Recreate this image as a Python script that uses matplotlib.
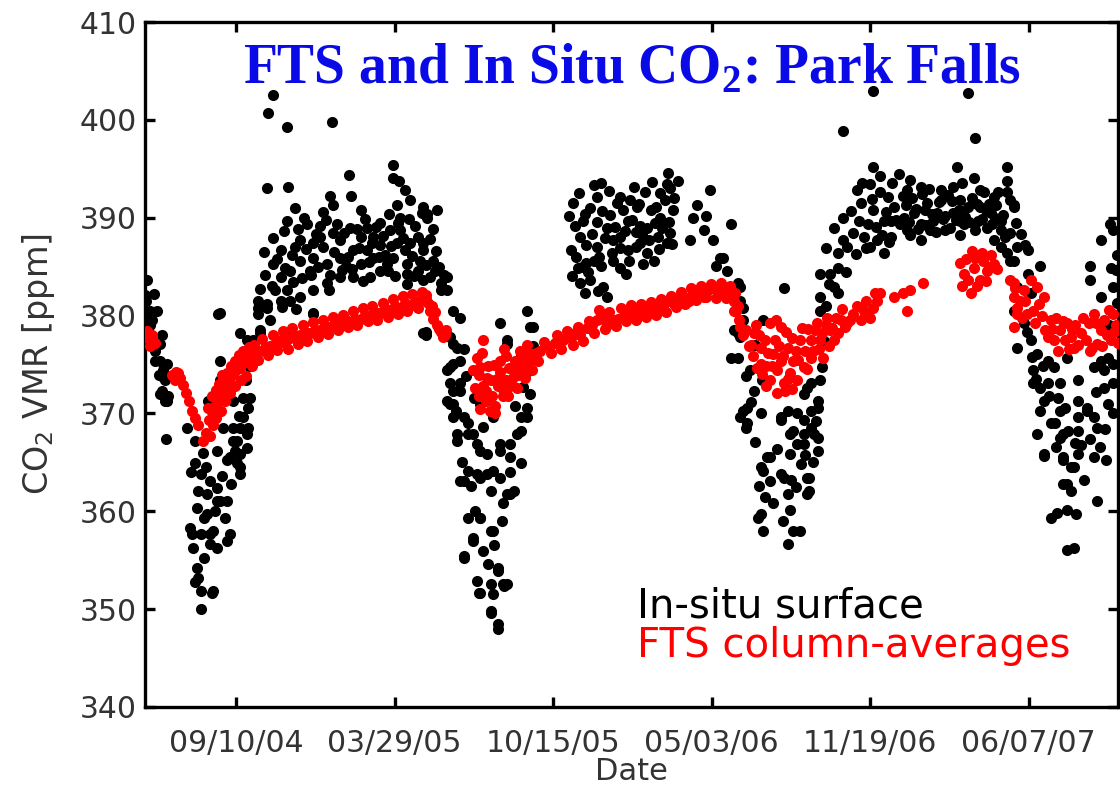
# -*- coding: utf-8 -*-
import numpy as np
import matplotlib
matplotlib.use("Agg")
import matplotlib.pyplot as plt
import matplotlib.dates as mdates

# days counted from 09/10/04, CO2 in ppm
insitu_2004 = [(-115, 380.5), (-111, 379.7), (-109, 379.0), (-106, 377.5), (-102, 376.4), (-96, 375.4),
               (-92, 374.4), (-90, 373.4), (-93, 372.3), (-86, 371.8), (-90, 371.3), (-88, 367.4),
               (-112, 383.6), (-115, 382.1), (-109, 380.5), (-111, 378.5), (-102, 375.4), (-98, 373.9),
               (-114, 381.5), (-106, 379.5), (-96, 377.1), (-87, 375.1), (-92, 373.7), (-96, 372.0),
               (-87, 371.3), (-100, 380.5), (-94, 378.0), (-104, 382.2),
               (-62, 368.5), (-52, 367.2), (-42, 366.0), (-52, 364.9), (-45, 363.8), (-33, 363.1),
               (-48, 362.1), (-37, 361.8), (-24, 362.4), (-20, 361.1), (-58, 358.3), (-56, 357.7),
               (-54, 356.3), (-29, 358.0), (-33, 356.7), (-24, 356.3), (-11, 357.0), (-14, 359.3),
               (-49, 354.2), (-48, 353.2), (-45, 351.9), (-29, 351.9), (-30, 351.7), (-45, 350.0),
               (-35, 371.3), (-23, 380.2), (-20, 375.4), (-20, 373.4), (-4, 368.5), (1, 367.2),
               (5, 365.9), (14, 366.5), (5, 364.5), (15, 370.6), (18, 371.6), (-4, 371.3),
               (21, 377.5), (5, 378.2), (30, 378.2), (27, 381.5), (27, 380.2), (39, 380.8),
               (56, 381.5), (97, 380.2), (68, 378.2), (-20, 380.3), (14, 377.5), (30, 378.5),
               (14, 367.9), (5, 368.5), (-4, 367.2), (9, 369.6), (15, 368.5), (-24, 366.2),
               (-8, 365.5), (-11, 365.2), (1, 364.9), (5, 363.8), (-24, 361.1), (-11, 361.1),
               (-8, 357.7), (-37, 359.7), (-45, 357.7), (-33, 357.7),
               (-57, 364.0), (-50, 360.3), (-41, 359.3), (-38, 364.5), (-27, 360.0), (-18, 363.6),
               (-16, 368.5), (-6, 362.8), (-2, 366.2), (3, 369.7), (8, 371.6), (12, 373.4),
               (16, 374.8), (-40, 355.2), (-52, 352.8)]

insitu_winter05 = [(47, 402.5), (40, 400.7), (64, 399.3), (121, 399.8), (39, 393.0), (66, 393.1),
                   (143, 394.4), (198, 395.4), (198, 394.1), (145, 392.2), (119, 392.2), (122, 391.3),
                   (109, 390.6), (74, 391.0), (64, 389.7), (85, 390.0), (47, 387.9), (74, 387.0),
                   (97, 387.4), (122, 388.4), (106, 388.0), (144, 389.0), (165, 389.0), (173, 388.0),
                   (203, 391.3), (207, 390.0), (241, 390.0), (194, 388.7), (203, 387.4), (220, 387.4),
                   (236, 387.4), (249, 385.6), (47, 385.3), (56, 383.9), (68, 384.6), (81, 385.6),
                   (97, 385.9), (115, 385.3), (131, 385.9), (148, 386.7), (157, 385.3), (173, 385.9),
                   (182, 384.6), (198, 385.9), (216, 385.3), (229, 384.6), (245, 383.9), (258, 383.3),
                   (266, 382.6), (27, 380.8), (39, 381.2), (64, 382.6), (81, 381.9), (97, 382.6),
                   (115, 383.3), (131, 383.9), (148, 383.9), (169, 383.9), (191, 384.6), (216, 384.3),
                   (236, 383.6), (97, 380.3), (239, 378.0),
                   (56, 386.7), (81, 387.7), (106, 389.2), (131, 387.7), (157, 388.0), (182, 387.2),
                   (207, 388.7), (226, 389.2), (37, 384.1), (49, 382.6), (93, 384.6), (119, 384.1),
                   (138, 385.1), (165, 386.7), (188, 386.2), (213, 386.7), (232, 385.6), (251, 384.6),
                   (68, 381.5), (43, 379.5), (157, 390.8), (182, 389.5), (220, 391.8), (236, 391.1),
                   (254, 390.8), (213, 392.8), (205, 393.8)]

insitu_winter05_b = [(35, 386.5), (45, 383.0), (52, 385.8), (60, 388.6), (62, 384.9), (70, 386.2),
                     (72, 383.4), (78, 388.9), (83, 383.8), (88, 386.8), (90, 389.4), (95, 384.2),
                     (101, 388.3), (103, 385.0), (110, 387.0), (113, 389.8), (117, 382.6), (124, 386.5),
                     (127, 389.4), (134, 384.7), (136, 388.4), (141, 386.0), (146, 384.8), (152, 388.8),
                     (155, 386.9), (160, 383.5), (162, 389.9), (168, 385.5), (171, 387.4), (177, 389.1),
                     (180, 386.0), (185, 388.1), (190, 385.3), (193, 390.4), (196, 387.1), (200, 384.0),
                     (204, 389.5), (210, 387.9), (215, 383.2), (218, 389.9), (222, 386.1), (225, 384.0),
                     (230, 388.0), (234, 390.5), (240, 385.2), (244, 387.8), (248, 388.9), (252, 386.6),
                     (256, 385.0), (262, 384.2), (58, 380.9), (76, 380.7), (30, 382.7)]

insitu_fall05 = [(241, 390.4), (236, 386.7), (266, 383.9), (258, 382.6), (239, 378.3), (274, 380.5),
                 (283, 379.8), (274, 377.1), (287, 376.6), (270, 374.7), (274, 372.3), (283, 373.1),
                 (270, 371.0), (292, 369.0), (279, 367.2), (270, 377.8), (279, 376.7), (274, 375.1),
                 (266, 374.4), (270, 373.1), (283, 372.3), (274, 371.0), (287, 369.6), (279, 367.9),
                 (299, 367.9), (308, 366.2), (292, 364.1), (308, 363.4), (287, 363.1), (324, 364.1),
                 (321, 362.1), (342, 361.8), (337, 360.8), (308, 359.3), (321, 358.0), (299, 357.0),
                 (287, 355.4), (330, 354.2), (304, 352.9), (321, 352.6), (337, 352.6), (321, 349.8),
                 (330, 348.5), (367, 380.5), (333, 379.2), (371, 378.8), (342, 377.5), (359, 376.1),
                 (371, 372.0), (367, 369.6), (359, 368.2), (359, 364.9), (346, 366.9), (333, 366.2),
                 (350, 362.1), (324, 369.6), (308, 371.0),
                 (236, 378.2), (283, 375.4), (266, 371.3), (274, 369.6), (292, 367.9), (304, 366.9),
                 (317, 365.9), (333, 366.9), (346, 365.5), (355, 367.9), (359, 369.6), (367, 370.6),
                 (342, 377.1), (375, 378.8), (304, 363.8), (317, 363.8), (333, 363.4), (283, 363.1),
                 (346, 361.8), (292, 359.3), (308, 359.3), (324, 358.0), (299, 357.3), (287, 355.2),
                 (330, 353.9), (342, 352.6), (308, 351.6), (307, 351.7), (324, 351.5), (338, 352.4),
                 (322, 349.6), (331, 348.0),
                 (278, 370.2), (285, 365.0), (296, 362.6), (302, 360.0), (312, 355.9), (318, 354.6),
                 (326, 356.6), (335, 359.0), (345, 364.0), (352, 370.8), (362, 372.7), (368, 374.3),
                 (374, 376.9), (290, 373.8), (300, 371.6), (312, 368.6)]

insitu_winter06 = [(425, 391.5), (460, 393.6), (545, 394.6), (456, 392.1), (485, 392.1), (506, 391.1),
                   (535, 392.5), (544, 393.5), (438, 389.7), (468, 389.0), (494, 389.7), (519, 389.0),
                   (535, 390.0), (548, 388.4), (434, 388.0), (456, 387.0), (485, 388.0), (510, 387.4),
                   (532, 388.0), (431, 384.9), (451, 385.6), (476, 385.6), (494, 386.7), (434, 383.3),
                   (447, 383.6), (463, 382.9), (468, 381.9), (485, 384.9), (519, 386.4), (544, 387.4),
                   (527, 385.6), (422, 386.7), (441, 387.2), (472, 390.3), (497, 391.8), (523, 390.8),
                   (428, 389.2), (447, 391.0), (475, 387.7), (504, 388.5), (529, 389.5), (551, 390.8),
                   (510, 389.2), (460, 385.1), (441, 385.4), (558, 393.8), (548, 393.0),
                   (598, 392.8), (577, 390.0), (590, 388.7), (624, 389.4), (602, 387.7), (611, 385.9),
                   (620, 384.6), (633, 383.3), (636, 381.5), (628, 378.5), (624, 375.7), (640, 370.3),
                   (645, 369.0), (636, 377.8), (582, 391.3), (593, 390.2), (573, 387.7), (605, 385.1),
                   (615, 385.9), (628, 381.5), (639, 379.5)]

insitu_winter06_b = [(420, 390.2), (424, 384.0), (429, 386.0), (433, 392.5), (436, 385.0), (440, 390.4),
                     (444, 384.5), (449, 388.3), (452, 393.3), (455, 389.6), (458, 386.0), (462, 390.7),
                     (466, 387.9), (470, 392.7), (474, 386.4), (478, 389.1), (481, 391.5), (484, 386.9),
                     (488, 390.8), (491, 388.6), (496, 385.6), (499, 389.8), (502, 393.1), (505, 387.0),
                     (509, 391.4), (512, 388.3), (516, 392.6), (521, 387.7), (525, 393.7), (530, 391.1),
                     (533, 386.8), (538, 389.0), (541, 391.8), (546, 389.6), (550, 387.3), (553, 392.0),
                     (457, 382.5), (440, 382.3), (492, 384.3), (513, 385.3)]

insitu_fall06 = [(636, 382.9), (640, 380.8), (633, 378.2), (649, 374.4), (653, 372.3), (645, 370.6),
                 (643, 368.5), (662, 370.0), (665, 379.5), (691, 382.8), (687, 369.3), (696, 370.3),
                 (708, 370.0), (703, 368.2), (716, 367.9), (725, 368.5), (734, 367.5), (734, 366.2),
                 (716, 366.9), (699, 365.9), (674, 365.5), (665, 364.1), (674, 363.1), (691, 363.4),
                 (696, 361.8), (721, 363.4), (721, 361.8), (662, 359.7), (658, 359.3), (665, 358.0),
                 (699, 360.1), (703, 358.0), (697, 356.7), (725, 370.3), (734, 371.3), (737, 373.4),
                 (725, 373.1), (716, 372.0), (633, 375.7), (636, 369.6), (670, 365.5), (662, 364.5),
                 (687, 363.8), (687, 369.6), (699, 367.9), (708, 366.9), (721, 372.6), (734, 370.6),
                 (716, 369.3), (729, 367.9), (723, 363.4), (723, 362.1), (712, 358.0),
                 (644, 373.8), (650, 371.2), (655, 367.1), (660, 362.6), (668, 361.5), (678, 360.8),
                 (683, 366.4), (690, 359.0), (700, 363.2), (706, 362.5), (713, 364.8), (718, 365.8),
                 (728, 365.0), (732, 369.2), (739, 374.7), (742, 377.4), (655, 377.0), (663, 373.4)]

insitu_winter07 = [(737, 380.5), (737, 381.9), (754, 382.9), (750, 384.3), (759, 384.9), (737, 384.3),
                   (744, 386.9), (754, 389.0), (766, 390.0), (766, 398.9), (804, 403.0), (923, 402.8),
                   (933, 398.2), (804, 395.2), (836, 394.5), (851, 393.9), (910, 395.2), (931, 394.1),
                   (973, 395.2), (973, 393.8), (784, 392.8), (800, 393.5), (822, 392.1), (847, 392.8),
                   (864, 393.1), (889, 392.8), (905, 393.1), (939, 392.8), (956, 392.1), (788, 391.5),
                   (804, 390.8), (830, 391.1), (855, 390.5), (872, 391.5), (885, 390.5), (905, 390.5),
                   (923, 391.1), (939, 391.1), (952, 390.5), (797, 389.4), (817, 389.7), (838, 389.4),
                   (864, 389.4), (880, 389.7), (901, 389.0), (918, 389.4), (936, 389.7), (948, 389.0),
                   (965, 389.7), (792, 388.0), (809, 387.7), (826, 388.0), (847, 388.7), (864, 387.7),
                   (800, 387.0), (817, 386.4), (981, 391.3), (956, 387.7), (965, 387.0), (973, 386.4),
                   (981, 385.6), (771, 387.0), (779, 388.4), (766, 387.7), (759, 386.4),
                   (889, 391.8), (914, 391.8), (895, 390.2), (869, 390.8), (845, 391.3), (826, 389.7),
                   (851, 388.2), (876, 388.7), (895, 388.7), (914, 388.2), (933, 388.7), (946, 390.8),
                   (959, 391.3), (914, 389.7), (813, 394.3)]

insitu_winter07_b = [(770, 384.5), (776, 390.7), (782, 386.3), (786, 389.7), (790, 393.6), (795, 386.9),
                     (802, 391.9), (807, 389.1), (812, 392.6), (815, 388.2), (820, 390.6), (824, 387.5),
                     (828, 393.6), (833, 389.8), (841, 392.2), (843, 390.0), (849, 389.6), (853, 392.0),
                     (858, 390.9), (861, 388.9), (866, 392.4), (870, 389.3), (874, 392.9), (878, 390.4),
                     (883, 388.5), (887, 391.6), (892, 389.9), (898, 392.3), (903, 391.7), (908, 389.8),
                     (912, 390.8), (916, 393.6), (920, 390.1), (925, 389.6), (929, 392.0), (935, 391.4),
                     (941, 389.9), (944, 392.6), (950, 391.4), (954, 389.4), (958, 390.0), (962, 392.6),
                     (968, 390.3), (970, 388.0), (976, 391.8), (984, 389.5), (990, 388.3), (995, 387.2),
                     (760, 382.3), (748, 383.2), (744, 381.0)]

insitu_2007 = [(973, 392.6), (981, 391.1), (965, 388.7), (977, 388.4), (986, 387.0), (999, 386.7),
               (1015, 385.1), (999, 384.3), (977, 385.6), (986, 382.9), (1003, 382.3), (981, 380.5),
               (994, 379.2), (986, 376.7), (1003, 377.5), (1011, 376.1), (1024, 375.4), (1006, 374.4),
               (1032, 374.7), (1006, 373.1), (1024, 373.1), (1040, 373.1), (1019, 371.3), (1037, 371.6),
               (1015, 370.3), (1040, 370.3), (1062, 371.3), (1074, 370.3), (1028, 369.0), (1011, 367.9),
               (1040, 367.5), (1062, 368.2), (1082, 369.6), (1087, 368.5), (1100, 371.0), (1019, 365.9),
               (1044, 365.5), (1062, 365.9), (1053, 364.5), (1082, 365.5), (1044, 362.8), (1053, 362.1),
               (1087, 361.1), (1028, 359.3), (1049, 360.1), (1049, 356.0), (1057, 356.3), (1091, 387.7),
               (1078, 385.1), (1104, 384.9), (1078, 383.6), (1107, 388.7), (1091, 381.9), (1107, 382.9),
               (1100, 375.7), (1107, 375.1), (1095, 374.4), (1107, 373.1), (1082, 374.7), (1062, 373.4),
               (1049, 375.7), (1015, 372.6), (1044, 367.9), (1062, 369.6), (1074, 370.6), (1019, 365.7),
               (1044, 365.2), (1057, 364.5), (1049, 362.8), (1091, 375.4), (1095, 372.6), (1107, 370.0),
               (998, 378.3), (1004, 375.8), (1010, 373.5), (1018, 374.8), (1026, 371.8), (1033, 369.0),
               (1035, 366.6), (1046, 370.6), (1050, 368.2), (1058, 367.0), (1066, 366.8), (1070, 363.2),
               (1078, 367.4), (1085, 372.2), (1090, 366.6), (1096, 368.4), (1102, 379.0), (1110, 384.7),
               (1112, 381.3), (1112, 386.2), (1103, 389.4), (1098, 365.2), (1060, 359.7), (1036, 359.8)]

fts_2004 = [(-112, 378.0), (-109, 377.5), (-106, 378.0), (-102, 377.2), (-109, 376.9), (-111, 377.7),
            (-112, 378.4), (-108, 377.0),
            (-81, 373.9), (-76, 374.2), (-71, 373.6), (-67, 372.9), (-63, 372.1), (-59, 371.3),
            (-56, 370.3), (-52, 369.5), (-48, 368.8), (-77, 373.4), (-73, 374.1),
            (-42, 367.2), (-38, 368.0), (-34, 369.3), (-33, 367.7), (-30, 370.1), (-29, 368.8),
            (-27, 370.8), (-25, 369.5), (-23, 371.3), (-20, 371.8), (-19, 370.3), (-16, 372.3),
            (-14, 371.3), (-13, 372.8), (-10, 373.4), (-8, 372.1), (-4, 373.9), (-1, 372.8),
            (0, 374.4), (5, 374.6), (6, 373.4), (9, 375.2), (14, 375.4), (18, 375.9), (20, 374.9),
            (24, 376.2), (30, 376.4), (37, 376.7), (43, 376.9), (49, 377.1), (56, 377.5),
            (62, 377.2), (68, 377.7), (74, 377.9), (81, 378.0), (87, 378.3), (93, 378.2),
            (100, 378.5), (106, 378.5), (112, 378.9), (119, 378.8), (125, 379.3), (131, 379.0),
            (138, 379.5), (144, 379.3), (150, 379.7), (157, 379.7), (163, 380.1), (169, 380.0),
            (175, 380.4), (182, 380.3), (188, 380.8), (194, 380.5), (201, 381.0), (207, 380.7),
            (213, 381.3), (220, 381.0), (226, 381.5), (232, 381.5), (236, 381.9), (239, 381.7),
            (242, 381.3), (245, 380.5), (249, 379.7), (254, 379.0), (258, 378.3), (261, 377.8),
            (265, 378.5)]

fts_2004_b = [(-36, 370.6), (-31, 371.8), (-26, 372.4), (-22, 373.0), (-18, 373.9), (-12, 374.1),
              (-6, 374.8), (-2, 375.4), (3, 376.0), (8, 376.4), (12, 373.8), (16, 376.8), (22, 377.0),
              (27, 375.5), (33, 377.6), (40, 376.0), (46, 378.0), (52, 376.5), (59, 378.4), (65, 376.6),
              (71, 378.7), (78, 377.1), (84, 379.0), (90, 377.4), (97, 379.3), (103, 377.8), (109, 379.6),
              (116, 378.1), (122, 379.9), (128, 378.5), (135, 380.1), (141, 378.8), (147, 380.5),
              (153, 379.0), (160, 380.8), (166, 379.4), (172, 381.0), (178, 379.6), (185, 381.3),
              (191, 379.9), (198, 381.7), (204, 380.2), (210, 382.0), (216, 380.5), (222, 382.2),
              (229, 380.8), (234, 382.4), (240, 382.1), (247, 381.0), (251, 380.4), (256, 378.6),
              (263, 378.0)]

fts_2005 = [(304, 375.7), (312, 377.5), (308, 374.7), (306, 373.9), (311, 372.8), (306, 371.8),
            (315, 371.3), (308, 370.5), (320, 370.3), (315, 372.3), (321, 373.4), (323, 371.8),
            (327, 370.8), (331, 372.8), (333, 374.2), (337, 371.8), (340, 373.4), (344, 374.6),
            (346, 372.8), (350, 374.2), (352, 375.4), (356, 373.9), (359, 374.9), (362, 375.9),
            (365, 374.6), (369, 376.2), (371, 375.4), (327, 370.0), (333, 375.4), (340, 375.9),
            (318, 374.9), (299, 374.4),
            (302, 372.6), (310, 376.2), (317, 373.6), (325, 375.0), (329, 373.5), (335, 372.6),
            (338, 376.6), (343, 371.8), (348, 373.5), (354, 372.6), (358, 376.4), (364, 373.6),
            (367, 377.0), (373, 374.4),
            (378, 376.2), (384, 376.4), (393, 376.9), (403, 377.2), (413, 377.5), (422, 377.7),
            (428, 378.2), (434, 378.0), (443, 378.7), (449, 379.0), (456, 379.5), (460, 380.0),
            (463, 379.7), (468, 379.0), (475, 379.5), (482, 379.7), (489, 380.0), (495, 380.3),
            (501, 380.2), (507, 380.5), (514, 380.3), (520, 380.7), (527, 380.8), (533, 381.0),
            (539, 380.9), (545, 381.5), (552, 381.2), (558, 381.7), (564, 382.0), (571, 381.5),
            (577, 382.2), (583, 382.3), (590, 381.9), (596, 382.6), (602, 382.8), (609, 382.4),
            (614, 382.9), (620, 382.6), (624, 382.0), (628, 381.5), (631, 380.5), (634, 379.5),
            (636, 378.8), (639, 378.0)]

fts_2005_b = [(381, 375.4), (388, 377.3), (397, 376.2), (405, 378.0), (410, 376.6), (418, 378.4),
              (425, 377.0), (431, 378.8), (438, 377.4), (445, 379.4), (452, 378.2), (458, 380.6),
              (466, 378.6), (471, 380.4), (479, 378.9), (486, 380.8), (492, 379.4), (498, 381.1),
              (504, 379.6), (511, 381.2), (517, 379.9), (524, 381.4), (530, 380.1), (536, 381.7),
              (542, 380.4), (549, 382.0), (555, 380.9), (561, 382.4), (567, 381.2), (574, 382.8),
              (580, 381.6), (586, 383.0), (593, 381.9), (599, 383.2), (606, 381.8), (612, 383.3),
              (618, 381.8), (623, 383.0), (630, 382.3), (633, 381.0)]

fts_2006 = [(620, 382.3), (628, 380.5), (653, 378.2), (674, 379.2), (687, 378.8), (662, 376.7),
            (678, 376.1), (696, 376.7), (712, 377.5), (662, 375.1), (683, 374.4), (699, 374.1),
            (716, 374.7), (674, 373.4), (691, 373.1), (708, 373.4), (725, 375.7), (737, 377.5),
            (750, 378.5), (763, 379.5), (779, 380.2), (792, 380.5), (804, 380.8), (813, 382.3),
            (809, 381.5), (788, 379.5), (771, 379.2), (754, 377.5), (741, 375.7),
            (643, 378.5), (647, 376.9), (652, 375.9), (657, 374.6), (667, 377.5), (669, 374.9),
            (680, 377.5), (687, 375.4), (693, 372.3), (703, 375.4), (706, 376.4), (718, 376.4),
            (725, 377.5), (731, 378.5), (735, 376.6), (744, 379.0), (748, 376.9), (760, 378.2),
            (768, 378.8), (775, 379.5), (800, 379.8), (669, 372.8), (683, 372.1), (701, 372.5),
            (650, 377.0), (656, 379.0), (660, 378.0), (664, 374.0), (671, 376.2), (676, 374.9),
            (681, 379.6), (685, 376.9), (690, 375.9), (694, 378.3), (697, 373.5), (702, 377.7),
            (709, 375.5), (714, 378.7), (720, 374.5), (722, 378.6), (728, 376.4), (733, 379.2),
            (739, 378.2), (746, 379.8), (752, 378.7), (757, 379.8), (765, 380.7), (784, 381.0),
            (795, 381.5), (806, 382.3),
            (830, 381.9), (842, 382.3), (847, 380.5), (851, 382.6), (867, 383.3)]

fts_2007 = [(918, 384.3), (931, 384.9), (943, 385.6), (956, 385.3), (927, 382.3), (923, 383.6),
            (939, 383.6), (948, 384.6), (914, 385.4), (952, 386.2), (933, 385.9),
            (916, 383.0), (921, 385.8), (928, 386.6), (935, 383.0), (941, 386.4), (946, 383.5),
            (950, 385.0), (960, 384.8),
            (977, 383.6), (981, 381.9), (986, 380.2), (981, 378.8), (981, 383.3), (994, 382.6),
            (986, 380.8), (1011, 382.9), (1019, 381.9), (1006, 380.5), (1028, 379.5), (1040, 378.5),
            (1032, 377.5), (1053, 377.8), (1066, 378.2), (1069, 379.8), (1082, 380.2), (1095, 379.5),
            (1107, 380.2), (1087, 377.1), (1104, 377.5), (1078, 376.4), (1057, 376.7), (1037, 376.4),
            (1049, 379.2), (1021, 378.5), (1046, 377.5), (1059, 379.0), (1072, 377.5), (1091, 378.5),
            (1110, 379.0), (996, 381.5), (1003, 383.6),
            (983, 382.8), (989, 381.5), (992, 379.8), (998, 380.2), (1008, 379.2), (1013, 381.2),
            (1017, 380.0), (1024, 377.8), (1030, 378.6), (1035, 379.8), (1043, 379.4), (1051, 376.6),
            (1055, 378.6), (1063, 377.0), (1076, 379.2), (1080, 376.7), (1085, 379.2), (1093, 376.9),
            (1099, 378.0), (1102, 380.6), (1108, 378.3), (1113, 377.2)]

tick_dates = ["2004-09-10", "2005-03-29", "2005-10-15", "2006-05-03", "2006-11-19", "2007-06-07"]
x_start, x_end = "2004-05-18", "2007-09-28"
day0 = np.datetime64("2004-09-10")


def to_xy(*segments):
    arr = np.array([p for seg in segments for p in seg])
    dates = day0 + arr[:, 0].astype(int).astype("timedelta64[D]")
    return dates, arr[:, 1]


plt.rcParams['mathtext.fontset'] = 'custom'
plt.rcParams['mathtext.rm'] = 'Liberation Serif:bold'
plt.rcParams['mathtext.sf'] = 'DejaVu Sans'

fig = plt.figure(figsize=(11.2, 7.88), dpi=100)
ax = fig.add_axes([0.1295, 0.1028, 0.8688, 0.8692])

xi, yi = to_xy(insitu_2004, insitu_winter05, insitu_winter05_b, insitu_fall05, insitu_winter06,
               insitu_winter06_b, insitu_fall06, insitu_winter07, insitu_winter07_b, insitu_2007)
xf, yf = to_xy(fts_2004, fts_2004_b, fts_2005, fts_2005_b, fts_2006, fts_2007)
ax.scatter(xi, yi, s=64, c='black', linewidths=0, zorder=2)
ax.scatter(xf, yf, s=64, c='#ff0000', linewidths=0, zorder=3)

ax.set_xlim(np.datetime64(x_start), np.datetime64(x_end))
ax.set_ylim(340, 410)
ax.set_yticks(np.arange(340, 411, 10))
ax.set_xticks([np.datetime64(d) for d in tick_dates])
ax.xaxis.set_major_formatter(mdates.DateFormatter('%m/%d/%y'))

for s in ax.spines.values():
    s.set_linewidth(2.4)
ax.tick_params(direction='in', length=7, width=2.4, top=True, right=True,
               labelsize=21.5, labelcolor='#333333')
ax.tick_params(axis='x', pad=16)
ax.tick_params(axis='y', pad=6)

ax.set_xlabel('Date', fontsize=22, color='#333333', labelpad=-1)
ax.set_ylabel(r'CO$_\mathsf{2}$ VMR [ppm]', fontsize=24, color='#333333', labelpad=16)

ax.text(0.5, 0.911, r'FTS and In Situ CO$_\mathrm{2}$: Park Falls', transform=ax.transAxes,
        ha='center', va='baseline', fontsize=40, fontweight='bold',
        family='Liberation Serif', color='#0a0ae6')
ax.text(0.5057, 0.131, 'In-situ surface', transform=ax.transAxes, ha='left',
        va='baseline', fontsize=29, color='black')
ax.text(0.5057, 0.073, 'FTS column-averages', transform=ax.transAxes, ha='left',
        va='baseline', fontsize=29, color='#ff0000')

fig.savefig('out.png', dpi=100)
